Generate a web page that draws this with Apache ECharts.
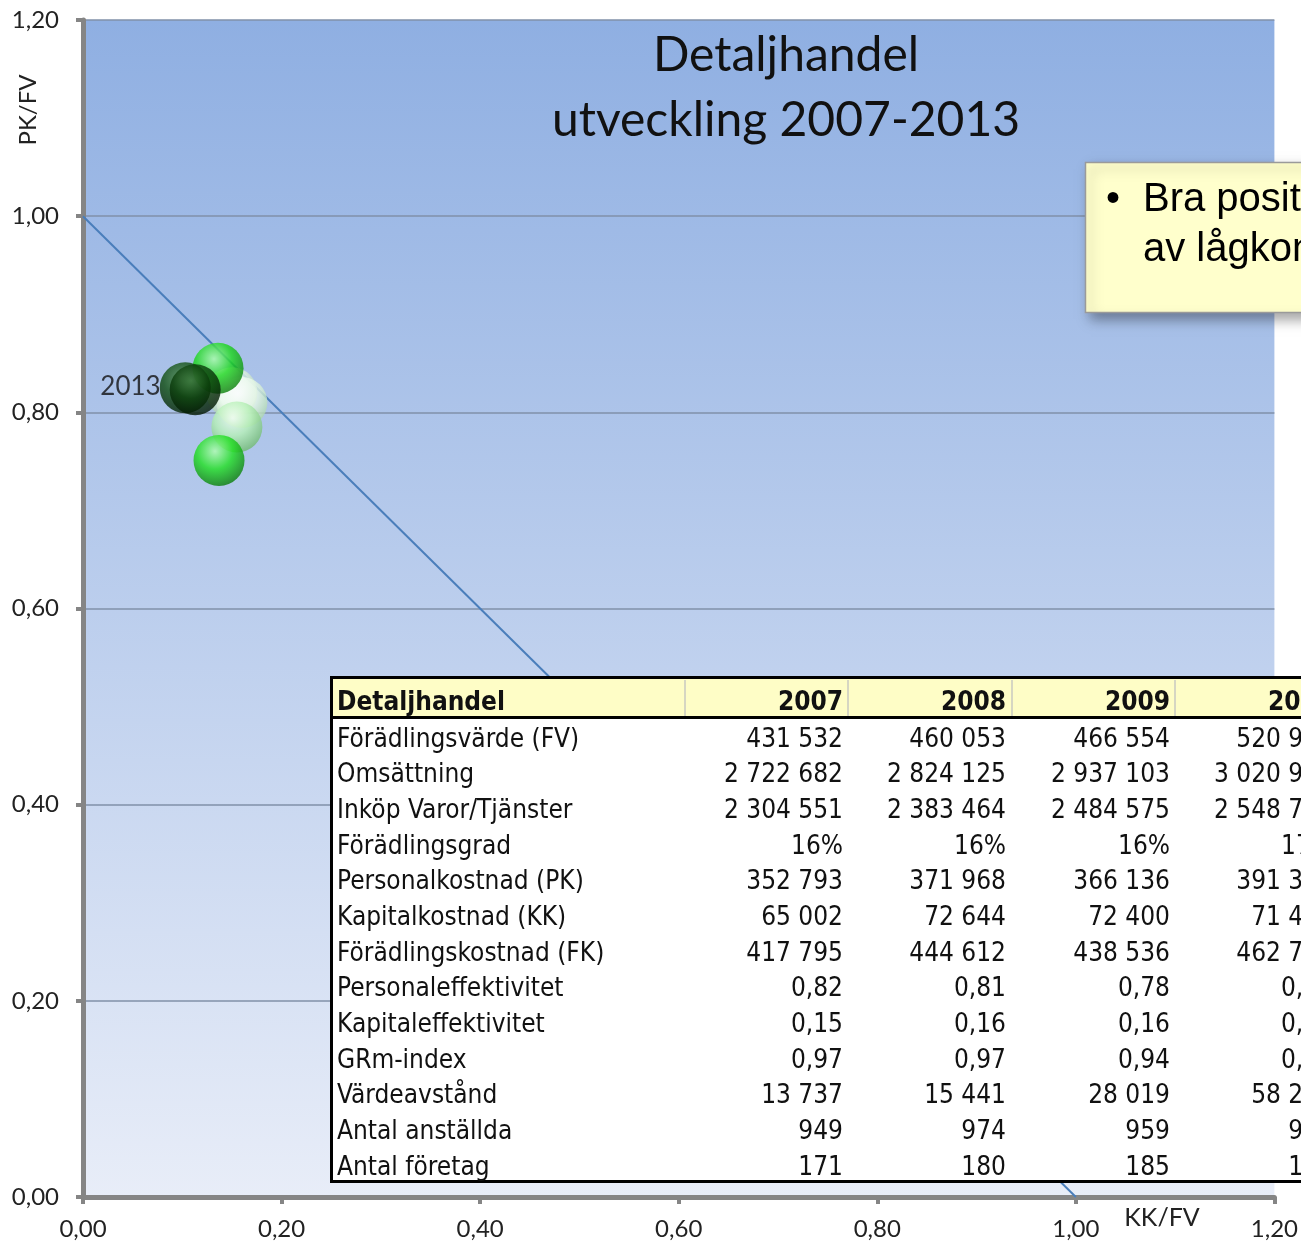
<!DOCTYPE html>
<html>
<head>
<meta charset="utf-8">
<script src="https://cdn.jsdelivr.net/npm/echarts@6/dist/echarts.min.js"></script>
<style>
  html, body { margin: 0; padding: 0; background: #fff; }
  #chart { width: 1301px; height: 1245px; }
</style>
</head>
<body>
<div id="chart"></div>
<script>
// bubble data: KK/FV (x) and PK/FV (y) per year
const years = ['2007', '2008', '2009', '2010', '2011', '2012', '2013']
const kkfv = [0.15, 0.16, 0.155, 0.137, 0.136, 0.103, 0.113]
const pkfv = [0.82, 0.81, 0.785, 0.751, 0.845, 0.825, 0.823]

// GRm = 1 reference line
const refLineX = [0, 1]
const refLineY = [1, 0]

const axisTicks = [0, 0.2, 0.4, 0.6, 0.8, 1.0, 1.2]

// table
const tableTitle = 'Detaljhandel'
const tableYears = ['2007', '2008', '2009', '2010']
const rowLabels = [
  'Förädlingsvärde (FV)', 'Omsättning', 'Inköp Varor/Tjänster', 'Förädlingsgrad',
  'Personalkostnad (PK)', 'Kapitalkostnad (KK)', 'Förädlingskostnad (FK)',
  'Personaleffektivitet', 'Kapitaleffektivitet', 'GRm-index', 'Värdeavstånd',
  'Antal anställda', 'Antal företag'
]
const values2007 = ['431 532', '2 722 682', '2 304 551', '16%', '352 793', '65 002', '417 795', '0,82', '0,15', '0,97', '13 737', '949', '171']
const values2008 = ['460 053', '2 824 125', '2 383 464', '16%', '371 968', '72 644', '444 612', '0,81', '0,16', '0,97', '15 441', '974', '180']
const values2009 = ['466 554', '2 937 103', '2 484 575', '16%', '366 136', '72 400', '438 536', '0,78', '0,16', '0,94', '28 019', '959', '185']
const values2010 = ['520 961', '3 020 944', '2 548 731', '17%', '391 332', '71 425', '462 757', '0,75', '0,14', '0,89', '58 204', '958', '188']

const titleLines = ['Detaljhandel', 'utveckling 2007-2013']
const noteLines = ['Bra positionering', 'av lågkonjunkturen']

// sphere shading per year: [highlight, body, rim]
const bubbleShades = [
  ['#ffffff', '#e6f6e6', '#9fc89f'],
  ['#ffffff', '#effcef', '#a8d4a8'],
  ['#f4fff4', '#b6f0b6', '#6fb86f'],
  ['#b0ffb0', '#1fe01f', '#087a08'],
  ['#a8ffa8', '#1cd81c', '#087c08'],
  ['#4a8a4a', '#0e4c0e', '#021e02'],
  ['#3c7a3c', '#0b3e0b', '#011601']
]

const fmt = v => v.toFixed(2).replace('.', ',')

const chart = echarts.init(document.getElementById('chart'))

const bubbleData = years.map((y, i) => ({
  value: [kkfv[i], pkfv[i]],
  name: y,
  itemStyle: {
    color: {
      type: 'radial', x: 0.42, y: 0.32, r: 0.7,
      colorStops: [
        { offset: 0, color: bubbleShades[i][0] },
        { offset: 0.5, color: bubbleShades[i][1] },
        { offset: 1, color: bubbleShades[i][2] }
      ]
    }
  },
  label: { show: i === years.length - 1 }
}))

const tableFont = '26px "DejaVu Sans Condensed", "DejaVu Sans", sans-serif'
const tableFontBold = 'bold 26px "DejaVu Sans Condensed", "DejaVu Sans", sans-serif'
const colRight = [843, 1006, 1170, 1333]
const colDividers = [685, 848, 1012, 1175]
const rowTop = 740
const rowStep = 35.65
const yearCols = [values2007, values2008, values2009, values2010]

const tableEls = [
  { type: 'rect', shape: { x: 332, y: 678, width: 1010, height: 40 }, style: { fill: '#fefdc6' } },
  { type: 'rect', shape: { x: 332, y: 718, width: 1010, height: 463 }, style: { fill: '#ffffff' } }
]
colDividers.forEach(x => {
  tableEls.push({ type: 'line', shape: { x1: x, y1: 680, x2: x, y2: 716 }, style: { stroke: '#c9c9c0', lineWidth: 1.5 } })
})
tableEls.push({ type: 'rect', shape: { x: 331.5, y: 677.5, width: 1010, height: 504 }, style: { fill: 'none', stroke: '#000', lineWidth: 3 } })
tableEls.push({ type: 'line', shape: { x1: 331, y1: 717.5, x2: 1301, y2: 717.5 }, style: { stroke: '#000', lineWidth: 3 } })
tableEls.push({ type: 'text', style: { text: tableTitle, x: 337, y: 703, font: tableFontBold, fill: '#111', textVerticalAlign: 'middle' } })
tableYears.forEach((y, c) => {
  tableEls.push({ type: 'text', style: { text: y, x: colRight[c], y: 703, font: tableFontBold, fill: '#111', textAlign: 'right', textVerticalAlign: 'middle' } })
})
rowLabels.forEach((label, r) => {
  const cy = rowTop + r * rowStep
  tableEls.push({ type: 'text', style: { text: label, x: 337, y: cy, font: tableFont, fill: '#111', textVerticalAlign: 'middle' } })
  yearCols.forEach((col, c) => {
    tableEls.push({ type: 'text', style: { text: col[r], x: colRight[c], y: cy, font: tableFont, fill: '#111', textAlign: 'right', textVerticalAlign: 'middle' } })
  })
})
tableEls.forEach(el => { el.z = 50 })

const option = {
  backgroundColor: '#ffffff',
  animation: false,
  grid: {
    left: 83, top: 20, right: 26, bottom: 48,
    show: true,
    borderWidth: 0,
    backgroundColor: {
      type: 'linear', x: 0, y: 0, x2: 0, y2: 1,
      colorStops: [
        { offset: 0, color: '#8fafe2' },
        { offset: 1, color: '#e8edf8' }
      ]
    }
  },
  xAxis: {
    type: 'value',
    min: axisTicks[0], max: axisTicks[axisTicks.length - 1], interval: 0.2,
    axisLine: { lineStyle: { color: '#858585', width: 5 } },
    axisTick: { show: true, length: 7, lineStyle: { color: '#858585', width: 4 } },
    splitLine: { show: false },
    axisLabel: { formatter: fmt, fontFamily: 'Lato', fontSize: 24, color: '#222', margin: 20 }
  },
  yAxis: {
    type: 'value',
    min: axisTicks[0], max: axisTicks[axisTicks.length - 1], interval: 0.2,
    axisLine: { show: true, lineStyle: { color: '#858585', width: 5 } },
    axisTick: { show: true, length: 7, lineStyle: { color: '#858585', width: 4 } },
    splitLine: { show: true, lineStyle: { color: '#8090a8', width: 1.5 } },
    axisLabel: { formatter: fmt, fontFamily: 'Lato', fontSize: 24, color: '#222', margin: 24 }
  },
  series: [
    {
      type: 'line',
      data: refLineX.map((x, i) => [x, refLineY[i]]),
      symbol: 'none',
      lineStyle: { color: '#4a7ebb', width: 2 },
      z: 2
    },
    {
      type: 'scatter',
      data: bubbleData,
      symbolSize: 51,
      z: 3,
      label: {
        position: 'left',
        distance: 9,
        offset: [0, -3],
        formatter: p => p.name,
        fontFamily: 'Lato',
        fontSize: 26,
        color: '#111'
      }
    }
  ],
  graphic: [
    { type: 'text', z: 10, style: { text: titleLines[0], x: 786, y: 56, font: '48px Lato', fill: '#111', textAlign: 'center', textVerticalAlign: 'middle' } },
    { type: 'text', z: 10, style: { text: titleLines[1], x: 786, y: 121, font: '48px Lato', fill: '#111', textAlign: 'center', textVerticalAlign: 'middle' } },
    { type: 'text', z: 10, x: 28, y: 110, rotation: Math.PI / 2, style: { text: 'PK/FV', font: '24px Lato', fill: '#222', textAlign: 'center', textVerticalAlign: 'middle' } },
    { type: 'text', z: 10, style: { text: 'KK/FV', x: 1162, y: 1218, font: '25px Lato', fill: '#222', textAlign: 'center', textVerticalAlign: 'middle' } },
    {
      type: 'rect', z: 20,
      shape: { x: 1085.5, y: 162.5, width: 260, height: 150 },
      style: { fill: '#ffffcc', stroke: '#9a9a9a', lineWidth: 1.5, shadowBlur: 12, shadowColor: 'rgba(0,0,0,0.35)', shadowOffsetX: 5, shadowOffsetY: 6 }
    },
    { type: 'text', z: 21, style: { text: '•', x: 1113, y: 200, font: '40px "Liberation Sans", Arial', fill: '#000', textAlign: 'center', textVerticalAlign: 'middle' } },
    { type: 'text', z: 21, style: { text: noteLines[0], x: 1143, y: 200, font: '40px "Liberation Sans", Arial', fill: '#000', textVerticalAlign: 'middle' } },
    { type: 'text', z: 21, style: { text: noteLines[1], x: 1143, y: 250, font: '40px "Liberation Sans", Arial', fill: '#000', textVerticalAlign: 'middle' } },
    { type: 'group', z: 50, children: tableEls }
  ]
}

chart.setOption(option)
</script>
</body>
</html>
